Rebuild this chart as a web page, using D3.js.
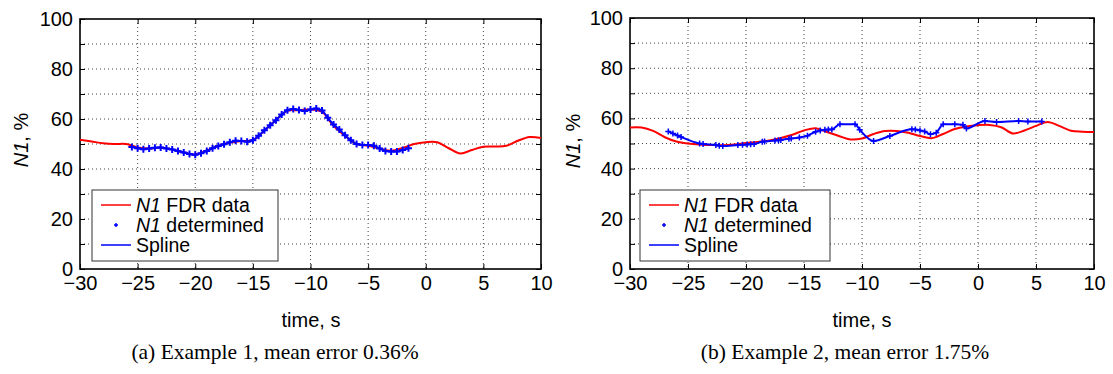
<!DOCTYPE html>
<html>
<head>
<meta charset="utf-8">
<script src="https://cdn.jsdelivr.net/npm/d3@7"></script>
<style>
  body { margin: 0; background: #fff; }
  svg { display: block; }
</style>
</head>
<body>
<svg id="svg" width="1113" height="374"></svg>
<script>
// tick values
const xTicks = [-30, -25, -20, -15, -10, -5, 0, 5, 10];
const yTicks = [0, 10, 20, 30, 40, 50, 60, 70, 80, 90, 100];
const legendLabels = ["FDR data", "determined", "Spline"];
const captions = ["(a) Example 1, mean error 0.36%", "(b) Example 2, mean error 1.75%"];

// Example 1 - FDR N1 (red)
const fdrTimeA = [-30, -29, -28, -27, -26, -25, -24, -23, -22, -21, -20, -19, -18, -17, -16, -15, -14, -13, -12, -11,
  -10, -9, -8, -7, -6, -5, -4, -3, -2, -1, 0, 1, 2, 3, 4, 5, 6, 7, 8, 9, 10];
const fdrA = [51.7, 51.0, 50.3, 50.0, 50.0, 48.6, 48.2, 48.6, 47.8, 46.6, 45.8, 47.4, 49.2, 50.6, 51.2, 51.5, 55.3, 59.6, 63.3, 63.5,
  63.8, 62.8, 57.3, 53.3, 50.0, 49.3, 48.2, 47.3, 48.4, 50.0, 50.7, 50.7, 48.3, 46.2, 47.6, 48.9, 49.0, 49.3, 51.3, 52.8, 52.4];

// Example 1 - determined N1 points (blue +)
const detTimeA = [-25.5, -25, -24.5, -24, -23.5, -23, -22.5, -22, -21.5, -21, -20.5, -20, -19.5, -19, -18.5, -18, -17.5, -17,
  -16.5, -16, -15.5, -15, -14.5, -14, -13.5, -13, -12.5, -12, -11.5, -11, -10.5, -10, -9.5, -9, -8.5, -8, -7.5, -7,
  -6.5, -6, -5.5, -5, -4.5, -4, -3.5, -3, -2.5, -2, -1.5];
const detA = [48.8, 48.3, 47.9, 48.2, 48.5, 48.6, 48.2, 47.8, 47.2, 46.6, 46.0, 45.7, 46.3, 47.2, 48.3, 49.2, 49.9, 50.7,
  51.3, 51.2, 50.9, 51.5, 53.3, 55.5, 57.5, 59.5, 61.8, 63.5, 64.0, 63.6, 63.2, 63.8, 64.2, 63.4, 60.5, 57.8, 55.8, 53.5,
  51.5, 50.0, 49.6, 49.6, 49.3, 48.2, 47.2, 47.0, 47.0, 47.6, 48.3];

// Example 2 - FDR N1 (red)
const fdrTimeB = [-30, -29, -28, -27, -26, -25, -24, -23, -22, -21, -20, -19, -18, -17, -16, -15, -14, -13, -12, -11,
  -10, -9, -8, -7, -6, -5, -4, -3, -2, -1, 0, 1, 2, 3, 4, 5, 6, 7, 8, 9, 10];
const fdrB = [56.4, 56.4, 55.0, 52.5, 50.8, 50.0, 49.6, 49.4, 49.3, 49.6, 50.2, 50.6, 51.2, 52.2, 53.5, 55.2, 56.1, 54.6, 53.0, 51.6,
  52.0, 53.8, 55.0, 55.0, 54.3, 53.0, 52.1, 53.8, 55.8, 56.8, 57.3, 57.4, 56.5, 54.0, 55.2, 57.0, 58.6, 57.0, 55.1, 54.7, 54.6];

// Example 2 - determined N1 points (blue +)
const detTimeB = [-26.7, -26.3, -25.9, -25.6, -24.0, -23.7, -22.6, -22.3, -22.0, -20.7, -20.3, -19.9, -19.6, -19.3, -18.6,
  -18.4, -17.5, -17.2, -17.0, -16.3, -16.1, -15.4, -14.7, -14.0, -13.6, -13.2, -12.9, -12.6, -11.9, -10.6, -10.2, -9.0,
  -7.6, -5.7, -5.4, -5.0, -4.6, -4.1, -3.6, -3.0, -2.0, -1.3, -1.0, 0.6, 1.6, 3.5, 4.3, 5.5];
const detB = [54.8, 54.0, 53.2, 52.6, 50.0, 49.8, 49.4, 49.1, 49.0, 49.4, 49.5, 49.6, 49.7, 49.8, 50.7,
  50.8, 51.2, 51.3, 51.4, 51.9, 52.0, 52.4, 53.1, 54.7, 55.2, 55.5, 55.6, 55.6, 57.7, 57.7, 55.5, 51.0,
  53.0, 55.7, 55.6, 55.2, 54.8, 53.7, 54.3, 57.7, 57.7, 57.5, 56.0, 59.0, 58.6, 59.0, 58.8, 58.8];

const svg = d3.select("#svg");
const sans = "'Liberation Sans', Arial, Helvetica, sans-serif";

const drawPanel = (p) => {
  const x = d3.scaleLinear().domain([-30, 10]).range([p.left, p.right]);
  const y = d3.scaleLinear().domain([0, 100]).range([p.bottom, p.top]);
  const g = svg.append("g");

  // dotted grid
  g.selectAll(".vgrid").data(xTicks.slice(1, -1)).enter().append("line")
    .attr("x1", d => x(d)).attr("x2", d => x(d))
    .attr("y1", p.top).attr("y2", p.bottom)
    .attr("stroke", "#444").attr("stroke-width", 1).attr("stroke-dasharray", "1,3");
  g.selectAll(".hgrid").data(yTicks.slice(1, -1)).enter().append("line")
    .attr("y1", d => y(d)).attr("y2", d => y(d))
    .attr("x1", p.left).attr("x2", p.right)
    .attr("stroke", "#444").attr("stroke-width", 1).attr("stroke-dasharray", "1,3");

  // axes, ticks pointing in
  const styleAxis = (a) => {
    a.select(".domain").remove();
    a.selectAll("line").attr("stroke", "#000");
    a.selectAll("text").attr("font-family", sans).attr("font-size", 20).attr("fill", "#000");
  };
  g.append("g").attr("transform", `translate(0,${p.bottom})`)
    .call(d3.axisBottom(x).tickValues(xTicks).tickSizeInner(-5).tickSizeOuter(0).tickPadding(7))
    .call(styleAxis);
  g.append("g").attr("transform", `translate(0,${p.top})`)
    .call(d3.axisTop(x).tickValues(xTicks).tickSizeInner(-5).tickSizeOuter(0).tickFormat(""))
    .call(styleAxis);
  g.append("g").attr("transform", `translate(${p.left},0)`)
    .call(d3.axisLeft(y).tickValues(yTicks).tickSizeInner(-5).tickSizeOuter(0).tickPadding(7)
      .tickFormat(d => d % 20 === 0 ? d : ""))
    .call(styleAxis);
  g.append("g").attr("transform", `translate(${p.right},0)`)
    .call(d3.axisRight(y).tickValues(yTicks).tickSizeInner(-5).tickSizeOuter(0).tickFormat(""))
    .call(styleAxis);

  // frame
  g.append("rect").attr("x", p.left).attr("y", p.top)
    .attr("width", p.right - p.left).attr("height", p.bottom - p.top)
    .attr("fill", "none").attr("stroke", "#000").attr("stroke-width", 1.6);

  // FDR data
  const fdr = p.fdrTime.map((t, i) => [t, p.fdr[i]]);
  const det = p.detTime.map((t, i) => [t, p.det[i]]);
  const line = d3.line().x(d => x(d[0])).y(d => y(d[1])).curve(d3.curveCatmullRom);
  g.append("path").datum(fdr).attr("d", line)
    .attr("fill", "none").attr("stroke", "#ff0000").attr("stroke-width", 2);

  // spline through determined points
  g.append("path").datum(det).attr("d", line.curve(p.splineCurve))
    .attr("fill", "none").attr("stroke", "#0000ff").attr("stroke-width", 2);

  // determined markers
  g.selectAll(".mk").data(det).enter().append("path")
    .attr("transform", d => `translate(${x(d[0])},${y(d[1])})`)
    .attr("d", `M-${p.mk},0H${p.mk}M0,-${p.mk}V${p.mk}`)
    .attr("stroke", "#0000ff").attr("stroke-width", p.mkW);

  // axis labels
  const yl = g.append("text")
    .attr("transform", `translate(${p.yLabelX},${p.yLabelY}) rotate(-90)`)
    .attr("text-anchor", "middle").attr("font-family", sans).attr("font-size", 20);
  yl.append("tspan").attr("font-style", "italic").text("N1");
  yl.append("tspan").text(", %");

  g.append("text").attr("x", p.xLabelX).attr("y", 327)
    .attr("text-anchor", "middle").attr("font-family", sans).attr("font-size", 20)
    .text("time, s");

  g.append("text").attr("x", p.capX).attr("y", 359)
    .attr("text-anchor", "middle").attr("font-family", "'Liberation Serif', 'Times New Roman', serif")
    .attr("font-size", 21.5).text(p.caption);

  // legend
  const lg = g.append("g").attr("transform", `translate(${p.legX},190)`);
  lg.append("rect").attr("x", 0).attr("y", 0).attr("width", p.legW).attr("height", 71)
    .attr("fill", "#fff").attr("stroke", "#333").attr("stroke-width", 1);
  const rows = [
    { color: "#ff0000", kind: "line" },
    { color: "#0000ff", kind: "mark" },
    { color: "#0000ff", kind: "line" }
  ];
  rows.forEach((r, i) => {
    const cy = 15 + i * 20;
    if (r.kind === "line") {
      lg.append("line").attr("x1", 9).attr("x2", 39).attr("y1", cy).attr("y2", cy)
        .attr("stroke", r.color).attr("stroke-width", 1.5);
    } else {
      lg.append("path").attr("transform", `translate(24,${cy})`)
        .attr("d", "M-2,0H2M0,-2V2").attr("stroke", r.color).attr("stroke-width", 1.5);
    }
    const t = lg.append("text").attr("x", 44).attr("y", cy + 7)
      .attr("font-family", sans).attr("font-size", 19.5).attr("fill", "#000");
    if (i < 2) {
      t.append("tspan").attr("font-style", "italic").text("N1");
      t.append("tspan").text(" " + legendLabels[i]);
    } else {
      t.text(legendLabels[i]);
    }
  });
};

drawPanel({
  left: 80, right: 541, top: 19, bottom: 269,
  fdrTime: fdrTimeA, fdr: fdrA, detTime: detTimeA, det: detA,
  splineCurve: d3.curveCatmullRom, mk: 3.5, mkW: 2,
  yLabelX: 28, yLabelY: 140, xLabelX: 311, capX: 275, caption: captions[0], legX: 92, legW: 186
});
drawPanel({
  left: 630, right: 1094, top: 18, bottom: 269,
  fdrTime: fdrTimeB, fdr: fdrB, detTime: detTimeB, det: detB,
  splineCurve: d3.curveMonotoneX, mk: 3, mkW: 1.5,
  yLabelX: 580, yLabelY: 141, xLabelX: 862, capX: 845, caption: captions[1], legX: 640, legW: 190
});
</script>
</body>
</html>
